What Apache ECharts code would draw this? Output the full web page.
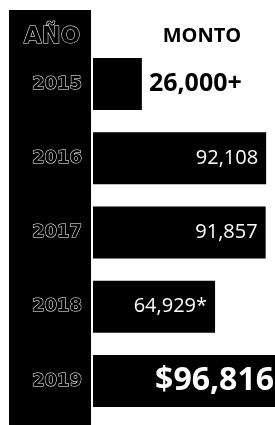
<!DOCTYPE html>
<html>
<head>
<meta charset="utf-8">
<script src="https://cdn.jsdelivr.net/npm/echarts@6/dist/echarts.min.js"></script>
<style>
  html, body { margin: 0; padding: 0; background: #fff; }
  #chart { width: 275px; height: 425px; }
</style>
</head>
<body>
<div id="chart"></div>
<script>
// datos
var years = ["2015", "2016", "2017", "2018", "2019"];
var montos = [26000, 92108, 91857, 64929, 96816];
var etiquetas = ["26,000+", "92,108", "91,857", "64,929*", "$96,816"];

var chart = echarts.init(document.getElementById("chart"));

var data = montos.map(function (v, i) {
  var item = { value: v, label: { formatter: etiquetas[i] } };
  if (i === 0) {
    item.label.position = "right";
    item.label.distance = 7;
    item.label.color = "#000";
    item.label.fontWeight = "bold";
    item.label.fontSize = 25;
  } else if (i === montos.length - 1) {
    item.label.fontWeight = "bold";
    item.label.fontSize = 32;
    item.label.distance = 1;
  }
  return item;
});

chart.setOption({
  animation: false,
  graphic: [
    { type: "rect", left: 9, top: 10, shape: { width: 82, height: 415 }, style: { fill: "#000" }, z: 0 },
    {
      type: "text", x: 52, y: 37, z: 10,
      style: {
        text: "AÑO", fill: "#000", stroke: "#fff", lineWidth: 1,
        font: "bold 23px 'DejaVu Sans'", textAlign: "center", textVerticalAlign: "middle"
      }
    },
    {
      type: "text", x: 202, y: 36, z: 10,
      style: {
        text: "MONTO", fill: "#000",
        font: "bold 20px 'Open Sans'", textAlign: "center", textVerticalAlign: "middle"
      }
    }
  ],
  grid: { left: 93, right: 0, top: 47, bottom: 7 },
  xAxis: {
    type: "value", min: 0, max: 96816,
    show: false
  },
  yAxis: {
    type: "category",
    inverse: true,
    data: years,
    axisLine: { show: false },
    axisTick: { show: false },
    axisLabel: {
      align: "center",
      margin: 36,
      color: "#000",
      textBorderColor: "#fff",
      textBorderWidth: 1,
      fontFamily: "DejaVu Sans",
      fontWeight: "bold",
      fontSize: 18
    }
  },
  series: [{
    type: "bar",
    data: data,
    barWidth: 52,
    itemStyle: { color: "#000" },
    label: {
      show: true,
      position: "insideRight",
      distance: 8,
      color: "#fff",
      fontFamily: "Open Sans",
      fontSize: 20
    }
  }]
});
</script>
</body>
</html>
